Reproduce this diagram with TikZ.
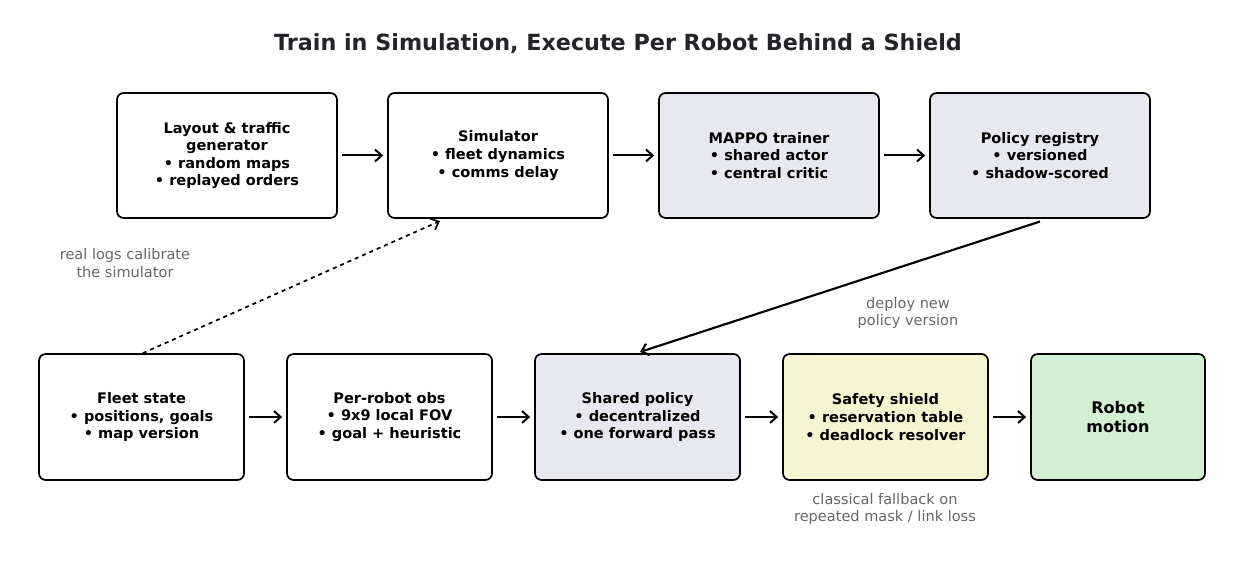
\documentclass[tikz,border=0pt]{standalone}
\usepackage{fontspec}
\setmainfont{DejaVu Sans}
\usetikzlibrary{arrows.meta}
\definecolor{lav}{HTML}{E8E8F2}
\definecolor{yel}{HTML}{F5F5D2}
\definecolor{grn}{HTML}{D4F0D2}
\definecolor{gtxt}{HTML}{666666}
\definecolor{ttl}{HTML}{222428}
\tikzset{
 box/.style={draw=black,line width=1.3pt,rounded corners=5pt,align=center,font=\fontsize{10.9}{13.2}\selectfont\bfseries,inner sep=0pt},
 ar/.style={-{Straight Barb[length=5pt,width=9pt]},line width=1.5pt},
 lab/.style={text=gtxt,align=center,font=\fontsize{10.9}{13}\selectfont}
}
\begin{document}
\begin{tikzpicture}[x=0.75pt,y=-0.75pt]
\useasboundingbox (0,0) rectangle (1236,574);
\node[font=\fontsize{16.7}{19}\selectfont\bfseries,text=ttl] (title) at (618,44) {Train in Simulation, Execute Per Robot Behind a Shield};
\newcommand{\bx}[6]{\node[box,fill=#6,minimum width={(#3-#2)*0.75pt},minimum height={(#5-#4)*0.75pt}] (#1) at ({(#2+#3)/2},{(#4+#5)/2})}
\bx{lay}{117}{337}{93}{218}{white} {Layout \& traffic\\generator\\• random maps\\• replayed orders};
\bx{sim}{388}{608}{93}{218}{white} {Simulator\\• fleet dynamics\\• comms delay};
\bx{map}{659}{879}{93}{218}{lav} {MAPPO trainer\\• shared actor\\• central critic};
\bx{reg}{930}{1150}{93}{218}{lav} {Policy registry\\• versioned\\• shadow-scored};
\bx{fle}{39}{244}{354}{480}{white} {Fleet state\\• positions, goals\\• map version};
\bx{obs}{287}{492}{354}{480}{white} {Per-robot obs\\• 9x9 local FOV\\• goal + heuristic};
\bx{pol}{535}{740}{354}{480}{lav} {Shared policy\\• decentralized\\• one forward pass};
\bx{shd}{783}{988}{354}{480}{yel} {Safety shield\\• reservation table\\• deadlock resolver};
\node[box,fill=grn,minimum width={174*0.75pt},minimum height={126*0.75pt},font=\fontsize{12}{14}\selectfont\bfseries] (rob) at (1118,417) {Robot\\motion};
\draw[ar,shorten <=3pt,shorten >=3pt] (lay) -- (sim);
\draw[ar,shorten <=3pt,shorten >=3pt] (sim) -- (map);
\draw[ar,shorten <=3pt,shorten >=3pt] (map) -- (reg);
\draw[ar,shorten <=3pt,shorten >=3pt] (fle) -- (obs);
\draw[ar,shorten <=3pt,shorten >=3pt] (obs) -- (pol);
\draw[ar,shorten <=3pt,shorten >=3pt] (pol) -- (shd);
\draw[ar,shorten <=3pt,shorten >=3pt] (shd) -- (rob);
\coordinate (simin) at (440,221);
\coordinate (polin) at (640,352);
\draw[ar,dashed,line width=1.3pt] ([xshift=1pt]fle.north) -- (simin);
\draw[ar,line width=1.6pt] ([yshift=-2pt]reg.south) -- (polin);
\node[lab] (l1) at (125,263) {real logs calibrate\\the simulator};
\node[lab] (l2) at (908,313) {deploy new\\policy version};
\node[lab] (l3) at (885,509) {classical fallback on\\repeated mask / link loss};
\end{tikzpicture}
\end{document}
